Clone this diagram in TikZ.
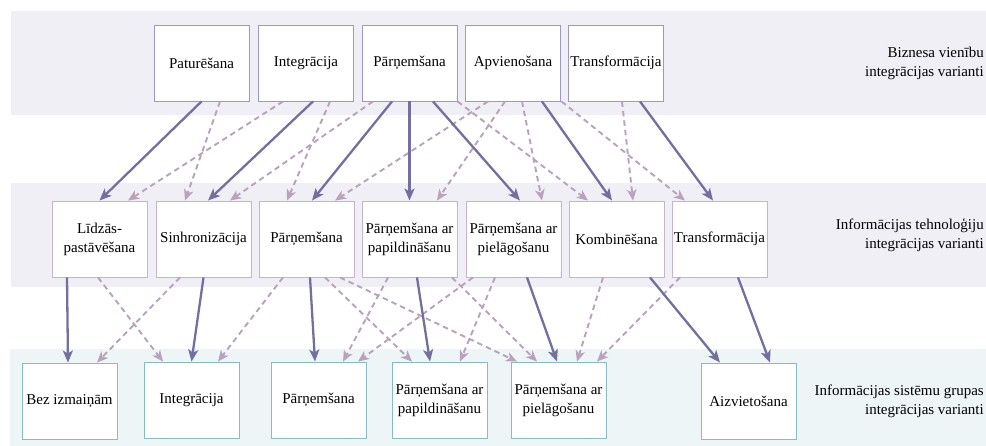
\documentclass[tikz,border=0pt]{standalone}
\usepackage{fontspec}
\setmainfont{Liberation Serif}
\usetikzlibrary{arrows.meta}

\definecolor{bandlilac}{HTML}{F0EFF5}
\definecolor{bandteal}{HTML}{EDF5F6}
\definecolor{edgetop}{HTML}{9C98C6}
\definecolor{edgemid}{HTML}{C9B3CB}
\definecolor{edgebot}{HTML}{86BEC0}
\definecolor{mainflow}{HTML}{736F9F}
\definecolor{sideflow}{HTML}{B8A2BC}

\tikzset{
  box/.style={draw, line width=0.9pt, fill=white, minimum width=95pt,
    minimum height=76pt, inner sep=0pt, align=center,
    font=\fontsize{15}{19}\selectfont},
  topbox/.style={box, draw=edgetop},
  midbox/.style={box, draw=edgemid},
  botbox/.style={box, draw=edgebot},
  rowlabel/.style={anchor=east, align=right, inner sep=0pt,
    font=\fontsize{15}{19}\selectfont},
  mainarrow/.style={draw=mainflow, line width=2.3pt,
    -{Stealth[length=12pt,width=10pt,inset=3pt,fill=mainflow]}},
  sidearrow/.style={draw=sideflow, line width=1.9pt, dash pattern=on 5.5pt off 4pt,
    -{Stealth[length=11pt,width=9.5pt,inset=3pt,fill=sideflow]}},
}

\begin{document}
\begin{tikzpicture}[x=1pt, y=-1pt]
  \useasboundingbox (0,0) rectangle (986,446);

  % level bands
  \fill[bandlilac] (11,11) rectangle (986,115);
  \fill[bandlilac] (11,183) rectangle (986,287);
  \fill[bandteal] (10,349) rectangle (986,446);

  % business unit level
  \node[topbox] (pat) at (201.5,63) {Paturēšana};
  \node[topbox] (int) at (306,63) {Integrācija};
  \node[topbox] (par) at (409.5,63) {Pārņemšana};
  \node[topbox] (apv) at (513,63) {Apvienošana};
  \node[topbox] (tra) at (616,63) {Transformācija};

  % information technology level
  \node[midbox] (lid) at (99.5,239) {Līdzās-\\pastāvēšana};
  \node[midbox] (sin) at (203.5,239) {Sinhronizācija};
  \node[midbox] (parm) at (306.5,239) {Pārņemšana};
  \node[midbox] (papm) at (409.5,239) {Pārņemšana ar\\papildināšanu};
  \node[midbox] (piem) at (513.5,239) {Pārņemšana ar\\pielāgošanu};
  \node[midbox] (kom) at (616.5,239) {Kombinēšana};
  \node[midbox] (tram) at (719.5,239) {Transformācija};

  % information system group level
  \node[botbox] (bez) at (69.5,401) {Bez izmaiņām};
  \node[botbox] (intb) at (191.5,400) {Integrācija};
  \node[botbox] (parb) at (318.5,400) {Pārņemšana};
  \node[botbox] (papb) at (439.5,400) {Pārņemšana ar\\papildināšanu};
  \node[botbox] (pieb) at (558.5,400) {Pārņemšana ar\\pielāgošanu};
  \node[botbox] (aiz) at (748.5,401) {Aizvietošana};

  % level captions
  \node[rowlabel] (capa) at (984,63) {Biznesa vienību\\integrācijas varianti};
  \node[rowlabel] (capb) at (984,235) {Informācijas tehnoloģiju\\integrācijas varianti};
  \node[rowlabel] (capc) at (984,401) {Informācijas sistēmu grupas\\integrācijas varianti};

  % alternative mappings, business -> IT
  \draw[sidearrow] ([xshift=18.5]pat.south) -- ([xshift=-18.5]sin.north);
  \draw[sidearrow] ([xshift=-23]int.south) -- ([xshift=28.5]lid.north);
  \draw[sidearrow] ([xshift=-36.5]par.south) -- ([xshift=26.5]sin.north);
  \draw[sidearrow] ([xshift=24]int.south) -- ([xshift=-19.5]parm.north);
  \draw[sidearrow] ([xshift=-25]apv.south) -- ([xshift=28.5]parm.north);
  \draw[sidearrow] ([xshift=-8]apv.south) -- ([xshift=27.5]papm.north);
  \draw[sidearrow] ([xshift=9]apv.south) -- ([xshift=28.5]piem.north);
  \draw[sidearrow] ([xshift=48]par.south) -- ([xshift=-28.5]kom.north);
  \draw[sidearrow] ([xshift=6]tra.south) -- ([xshift=16.5]kom.north);
  \draw[sidearrow] ([xshift=48.5]apv.south) -- ([xshift=-34.5]tram.north);

  % main mappings, business -> IT
  \draw[mainarrow] (pat.south) -- (lid.north);
  \draw[mainarrow] ([xshift=7]int.south) -- ([xshift=4.5]sin.north);
  \draw[mainarrow] ([xshift=-17.5]par.south) -- ([xshift=5.5]parm.north);
  \draw[mainarrow] (par.south) -- (papm.north);
  \draw[mainarrow] ([xshift=23.5]par.south) -- ([xshift=6.5]piem.north);
  \draw[mainarrow] ([xshift=29]apv.south) -- ([xshift=-4.5]kom.north);
  \draw[mainarrow] ([xshift=24]tra.south) -- ([xshift=-6.5]tram.north);

  % alternative mappings, IT -> system groups
  \draw[sidearrow] ([xshift=-1.5]lid.south) -- ([xshift=-28.5]intb.north);
  \draw[sidearrow] ([xshift=-23.5]sin.south) -- ([xshift=27.5]bez.north);
  \draw[sidearrow] ([xshift=-23.5]parm.south) -- ([xshift=26.5]intb.north);
  \draw[sidearrow] ([xshift=18.5]parm.south) -- ([xshift=-27.5]papb.north);
  \draw[sidearrow] ([xshift=33.5]parm.south) -- ([xshift=-41.5]pieb.north);
  \draw[sidearrow] ([xshift=-21.5]papm.south) -- ([xshift=24.5]parb.north);
  \draw[sidearrow] ([xshift=42.5]papm.south) -- ([xshift=-21.5]pieb.north);
  \draw[sidearrow] ([xshift=-40.5]piem.south) -- ([xshift=39.5]parb.north);
  \draw[sidearrow] ([xshift=-18.5]piem.south) -- ([xshift=20.5]papb.north);
  \draw[sidearrow] ([xshift=-13.5]kom.south) -- ([xshift=18.5]pieb.north);
  \draw[sidearrow] ([xshift=-39.5]tram.south) -- ([xshift=38.5]pieb.north);

  % main mappings, IT -> system groups
  \draw[mainarrow] ([xshift=-32.5]lid.south) -- ([xshift=-1.5]bez.north);
  \draw[mainarrow] (sin.south) -- (intb.north);
  \draw[mainarrow] ([xshift=3.5]parm.south) -- ([xshift=-3.5]parb.north);
  \draw[mainarrow] ([xshift=7.5]papm.south) -- ([xshift=-9.5]papb.north);
  \draw[mainarrow] ([xshift=13.5]piem.south) -- ([xshift=-1.5]pieb.north);
  \draw[mainarrow] ([xshift=33.5]kom.south) -- ([xshift=-28.5]aiz.north);
  \draw[mainarrow] ([xshift=18.5]tram.south) -- ([xshift=21.5]aiz.north);
\end{tikzpicture}
\end{document}
